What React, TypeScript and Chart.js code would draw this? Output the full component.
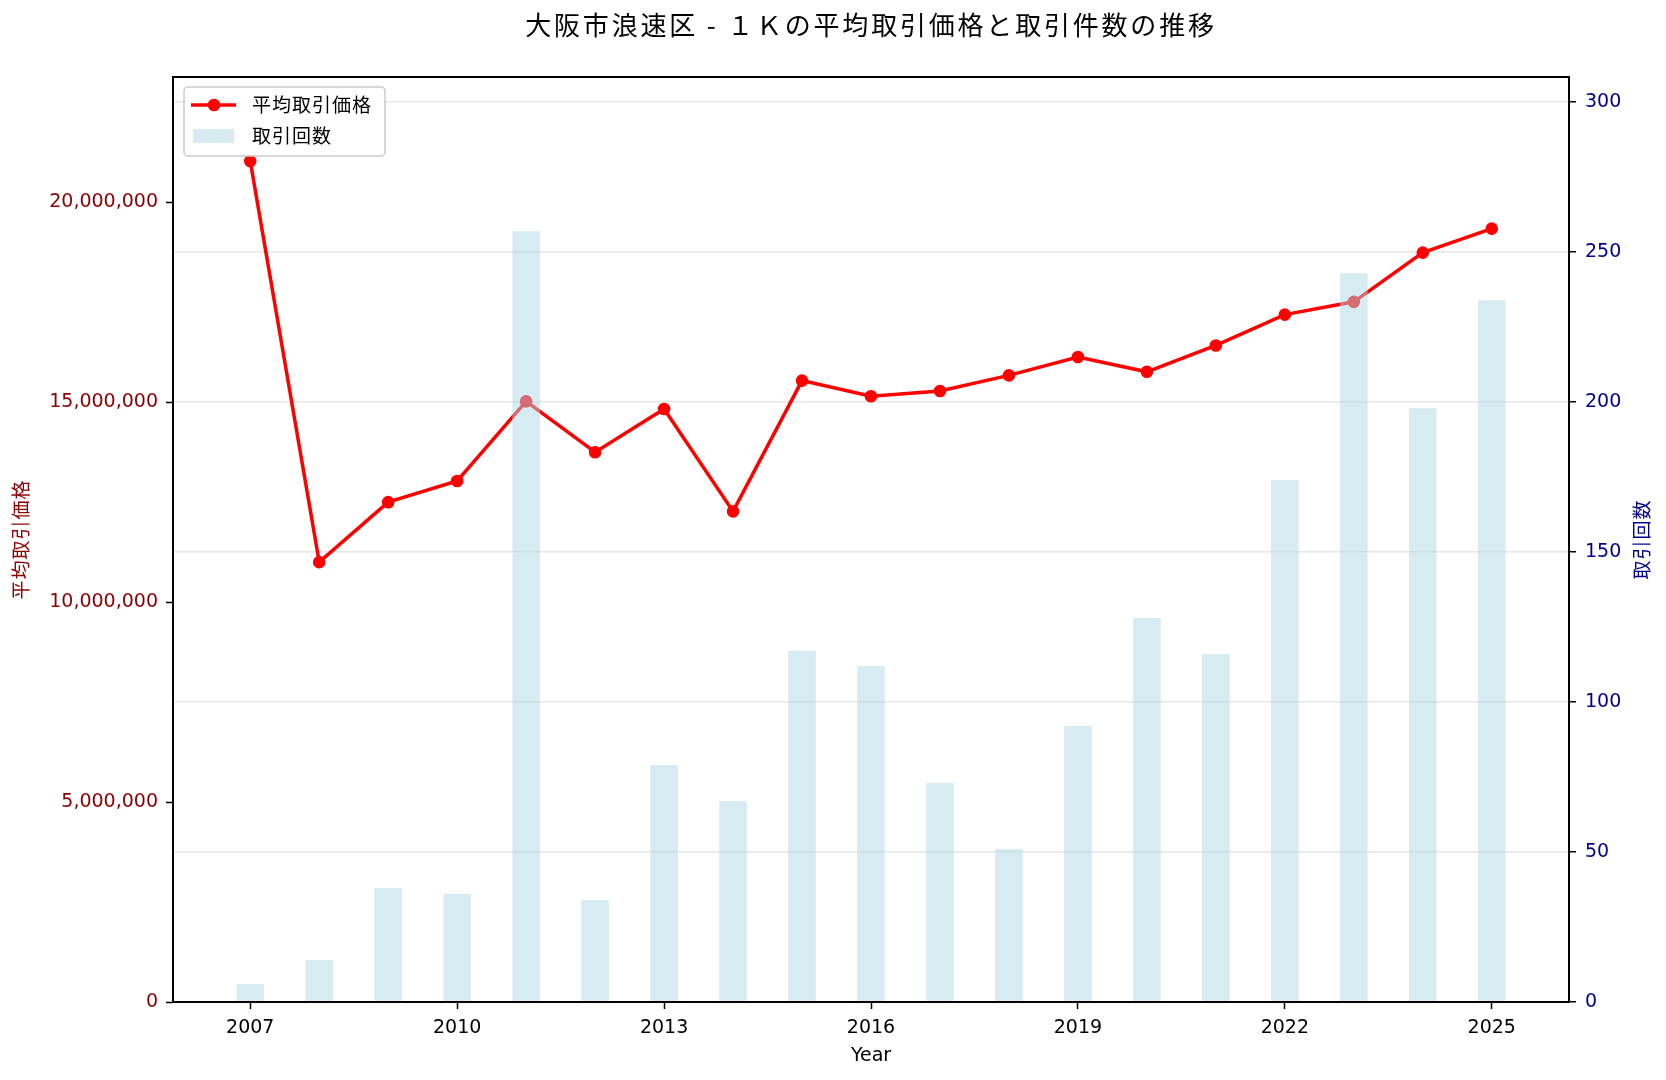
import { useEffect, useRef } from 'react';
import { Chart, registerables } from 'chart.js';

Chart.register(...registerables);

// 年ごとのデータ
const years = [2007, 2008, 2009, 2010, 2011, 2012, 2013, 2014, 2015, 2016, 2017, 2018, 2019, 2020, 2021, 2022, 2023, 2024, 2025];
const avgPrice = [
  21030000, 11000000, 12500000, 13030000, 15020000, 13750000, 14830000, 12270000, 15540000, 15150000,
  15280000, 15670000, 16130000, 15760000, 16420000, 17190000, 17510000, 18740000, 19340000,
];
const dealCount = [6, 14, 38, 36, 257, 34, 79, 67, 117, 112, 73, 51, 92, 128, 116, 174, 243, 198, 234];
const xTickYears = [2007, 2010, 2013, 2016, 2019, 2022, 2025];
const priceTicks = [0, 5000000, 10000000, 15000000, 20000000];
const countTicks = [0, 50, 100, 150, 200, 250, 300];

const TITLE = '大阪市浪速区 - １Ｋの平均取引価格と取引件数の推移';
const PRICE_LABEL = '平均取引価格';
const COUNT_LABEL = '取引回数';
const X_LABEL = 'Year';

const FONT = "'Noto Sans CJK JP', 'Noto Sans', sans-serif";
const NUM_FONT = "'DejaVu Sans', 'Noto Sans CJK JP', sans-serif";
const PRICE_COLOR = '#8B0000';
const COUNT_COLOR = '#00008B';
const LINE_COLOR = '#ff0000';
const BAR_FILL = 'rgba(173, 216, 230, 0.5)';
const GRID_COLOR = '#e6e6e6';

const BAR_WIDTH = 0.4; // 年単位
const xLo = years[0] - BAR_WIDTH / 2;
const xHi = years[years.length - 1] + BAR_WIDTH / 2;
const xPad = (xHi - xLo) * 0.05;
const priceMax = Math.max(...avgPrice) * 1.1;
const countMax = Math.max(...dealCount) * 1.2;

// matplotlib 風の枠・凡例・タイトル・軸ラベル
const decorPlugin = {
  id: 'decor',
  afterDraw(chart: Chart) {
    const { ctx, chartArea: ca } = chart;
    ctx.save();

    // 枠線
    ctx.strokeStyle = '#000';
    ctx.lineWidth = 2;
    ctx.strokeRect(ca.left, ca.top, ca.right - ca.left, ca.bottom - ca.top);

    // 凡例
    const bx = ca.left + 11;
    const by = ca.top + 10;
    ctx.beginPath();
    ctx.roundRect(bx, by, 201, 69, 4);
    ctx.fillStyle = 'rgba(255,255,255,0.8)';
    ctx.fill();
    ctx.strokeStyle = '#cccccc';
    ctx.lineWidth = 1.5;
    ctx.stroke();

    const row1 = by + 18;
    const row2 = by + 49;
    ctx.strokeStyle = LINE_COLOR;
    ctx.lineWidth = 3.5;
    ctx.beginPath();
    ctx.moveTo(bx + 7, row1);
    ctx.lineTo(bx + 52, row1);
    ctx.stroke();
    ctx.fillStyle = LINE_COLOR;
    ctx.beginPath();
    ctx.arc(bx + 30, row1, 6.3, 0, Math.PI * 2);
    ctx.fill();
    ctx.fillStyle = BAR_FILL;
    ctx.fillRect(bx + 9, row2 - 7, 41, 14);

    ctx.fillStyle = '#000';
    ctx.font = `19px ${FONT}`;
    ctx.textAlign = 'left';
    ctx.textBaseline = 'middle';
    (ctx as any).letterSpacing = '1px';
    ctx.fillText(PRICE_LABEL, bx + 68, row1);
    ctx.fillText(COUNT_LABEL, bx + 68, row2);

    // タイトル
    ctx.font = `26px ${FONT}`;
    ctx.textAlign = 'center';
    (ctx as any).letterSpacing = '2.8px';
    ctx.fillText(TITLE, (ca.left + ca.right) / 2, 25);
    (ctx as any).letterSpacing = '0px';

    // X 軸ラベル
    ctx.font = `19px ${NUM_FONT}`;
    ctx.fillText(X_LABEL, (ca.left + ca.right) / 2, ca.bottom + 54);

    // Y 軸ラベル（左右とも下から上へ）
    const midY = (ca.top + ca.bottom) / 2;
    ctx.font = `19px ${FONT}`;
    (ctx as any).letterSpacing = '1px';
    ctx.fillStyle = PRICE_COLOR;
    ctx.translate(21, midY);
    ctx.rotate(-Math.PI / 2);
    ctx.fillText(PRICE_LABEL, 0, 0);
    ctx.setTransform(1, 0, 0, 1, 0, 0);
    ctx.scale(chart.currentDevicePixelRatio, chart.currentDevicePixelRatio);
    ctx.fillStyle = COUNT_COLOR;
    ctx.translate(chart.width - 24, midY);
    ctx.rotate(-Math.PI / 2);
    ctx.fillText(COUNT_LABEL, 0, 0);

    ctx.restore();
  },
};

const App = () => {
  const chartRef = useRef<HTMLCanvasElement>(null);

  useEffect(() => {
    document.body.style.margin = '0';
    if (!chartRef.current) return;

    const chart = new Chart(chartRef.current, {
      type: 'bar',
      data: {
        datasets: [
          {
            type: 'bar',
            label: COUNT_LABEL,
            data: years.map((y, i) => ({ x: y, y: dealCount[i] })),
            backgroundColor: BAR_FILL,
            borderWidth: 0,
            yAxisID: 'y1',
            barPercentage: BAR_WIDTH,
            categoryPercentage: 1,
          },
          {
            type: 'line',
            label: PRICE_LABEL,
            data: years.map((y, i) => ({ x: y, y: avgPrice[i] })),
            borderColor: LINE_COLOR,
            backgroundColor: LINE_COLOR,
            borderWidth: 3.5,
            pointRadius: 5.6,
            pointBorderWidth: 1.4,
            pointBackgroundColor: LINE_COLOR,
            pointBorderColor: LINE_COLOR,
            tension: 0,
            yAxisID: 'y',
          },
        ],
      } as any,
      options: {
        animation: false,
        responsive: true,
        maintainAspectRatio: false,
        events: [],
        layout: { padding: { top: 77, left: 0, right: 0, bottom: 0 } },
        plugins: {
          legend: { display: false },
          title: { display: false },
          tooltip: { enabled: false },
        },
        scales: {
          x: {
            type: 'linear',
            min: xLo - xPad,
            max: xHi + xPad,
            offset: false,
            afterBuildTicks: (scale: any) => {
              scale.ticks = xTickYears.map((v) => ({ value: v }));
            },
            afterFit: (scale: any) => {
              scale.height = 78;
            },
            ticks: {
              autoSkip: false,
              maxRotation: 0,
              padding: 8,
              color: '#000',
              font: { family: NUM_FONT, size: 19 },
              callback: (v: any) => String(v),
            },
            grid: {
              offset: false,
              drawOnChartArea: false,
              tickLength: 7,
              tickColor: '#000',
              tickWidth: 1.5,
            },
            border: { display: false },
          },
          y: {
            type: 'linear',
            position: 'left',
            min: 0,
            max: priceMax,
            afterBuildTicks: (scale: any) => {
              scale.ticks = priceTicks.map((v) => ({ value: v }));
            },
            afterFit: (scale: any) => {
              scale.width = 173;
            },
            ticks: {
              padding: 8,
              color: PRICE_COLOR,
              font: { family: NUM_FONT, size: 19 },
              callback: (v: any) => Number(v).toLocaleString('en-US'),
            },
            grid: {
              drawOnChartArea: false,
              tickLength: 7,
              tickColor: '#000',
              tickWidth: 1.5,
            },
            border: { display: false },
          },
          y1: {
            type: 'linear',
            position: 'right',
            min: 0,
            max: countMax,
            afterBuildTicks: (scale: any) => {
              scale.ticks = countTicks.map((v) => ({ value: v }));
            },
            afterFit: (scale: any) => {
              scale.width = 97;
            },
            ticks: {
              padding: 9,
              color: COUNT_COLOR,
              font: { family: NUM_FONT, size: 19 },
            },
            grid: {
              drawOnChartArea: true,
              color: GRID_COLOR,
              lineWidth: 1.5,
              tickLength: 7,
              tickColor: '#000',
              tickWidth: 1.5,
            },
            border: { display: false },
          },
        },
      },
      plugins: [decorPlugin],
    });

    return () => chart.destroy();
  }, []);

  return (
    <div style={{ width: '1666px', height: '1080px', position: 'relative' }}>
      <canvas ref={chartRef} />
    </div>
  );
};

export default App;
